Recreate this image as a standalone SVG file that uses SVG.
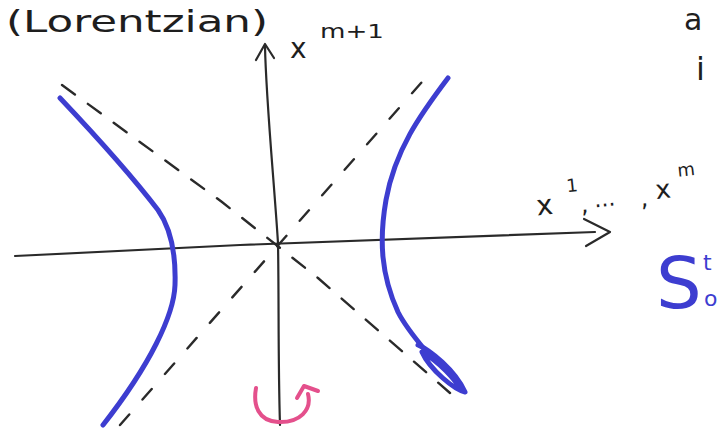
<svg xmlns="http://www.w3.org/2000/svg" width="718" height="430" viewBox="0 0 718 430">
<style>
.ax{fill:none;stroke:#2a2a2a;stroke-width:2.2;stroke-linecap:round;stroke-linejoin:round}
.as{fill:none;stroke:#2a2a2a;stroke-width:2.4;stroke-linecap:round}
.hy{fill:none;stroke:#3d3dd0;stroke-width:5;stroke-linecap:round;stroke-linejoin:round}
.pk{fill:none;stroke:#e4508c;stroke-width:4;stroke-linecap:round;stroke-linejoin:round}
.tx{font-family:"DejaVu Sans","Liberation Sans",sans-serif;fill:#1e1e1e}
.bl{font-family:"DejaVu Sans","Liberation Sans",sans-serif;fill:#3d3dd0}
</style>
<rect width="718" height="430" fill="#ffffff"/>
<g id="connectors">
  <g id="asymptotes">
    <path class="as" d="M62,85 L222,202 L318,278 L450,393" stroke-dasharray="16,16"/>
    <path class="as" d="M120,425 L428,75" stroke-dasharray="14,20"/>
  </g>
  <g id="axes">
    <path class="ax" d="M15,256 L240,245 L595,232"/>
    <path class="ax" d="M584,219 L610,232 L586,246"/>
    <path class="ax" d="M265,46 C266,100 274,180 278,243 C279,300 278,360 280,425"/>
    <path class="ax" d="M256,60 L265,44 L274,58"/>
  </g>
</g>
<g id="hyperbola-left">
  <path class="hy" d="M60,98 C95,135 135,180 158,210 C172,230 176,255 175,285 C174,315 150,365 103,425"/>
</g>
<g id="hyperbola-right">
  <path class="hy" d="M448,78 C420,115 395,150 386,200 C379,240 381,275 398,312 C405,326 415,338 425,350"/>
  <path class="hy" stroke-width="3.5" d="M418,345 C430,350 455,370 465,392 C455,390 430,370 422,352 C440,362 455,380 460,388"/>
</g>
<g id="rotation">
  <path class="pk" d="M256,388 C253,405 258,421 278,422 C300,423 312,410 308,394"/>
  <path class="pk" d="M297,398 L304,386 L318,391"/>
</g>
<g id="labels">
  <text class="tx" x="6" y="32" font-size="30" textLength="262" lengthAdjust="spacingAndGlyphs">(Lorentzian)</text>
  <text class="tx" x="290" y="58" font-size="28">x</text>
  <text class="tx" x="320" y="38" font-size="20" textLength="64" lengthAdjust="spacingAndGlyphs">m+1</text>
  <g transform="rotate(-6 590 200)">
    <text class="tx" x="536" y="210" font-size="28">x</text>
    <text class="tx" x="568" y="190" font-size="18">1</text>
    <text class="tx" x="580" y="212" font-size="24">,</text>
    <text class="tx" x="594" y="208" font-size="22">...</text>
    <text class="tx" x="640" y="212" font-size="24">,</text>
    <text class="tx" x="656" y="206" font-size="26">x</text>
    <text class="tx" x="680" y="186" font-size="18">m</text>
  </g>
  <text class="tx" x="684" y="30" font-size="30">a</text>
  <text class="tx" x="696" y="80" font-size="32">i</text>
  <text class="bl" x="656" y="308" font-size="72">S</text>
  <text class="bl" x="703" y="270" font-size="22">t</text>
  <text class="bl" x="704" y="306" font-size="22">o</text>
</g>
</svg>
